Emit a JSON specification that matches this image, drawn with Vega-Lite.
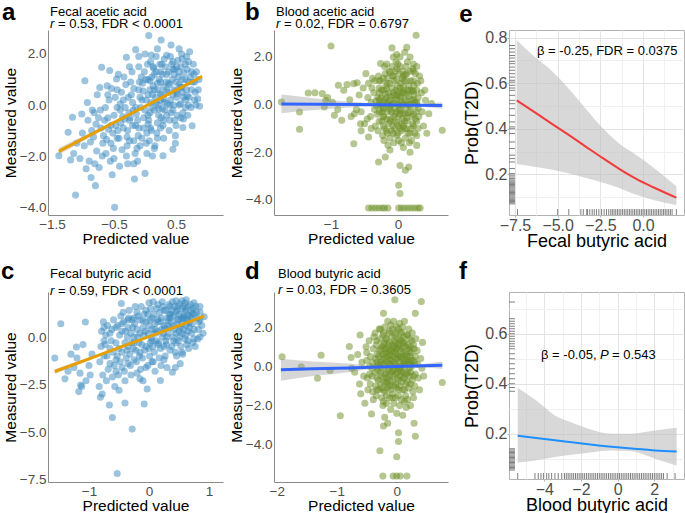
{
"$schema":"https://vega.github.io/schema/vega-lite/v6.json",
"background":"white",
"padding":{"left":1,"top":0,"right":0,"bottom":0},
"autosize":{"type":"pad"},
"config":{
 "font":"Liberation Sans",
 "view":{"stroke":null},
 "axis":{"labelFont":"Liberation Sans","titleFont":"Liberation Sans","labelFontSize":13.5,"titleFontSize":15.5,"labelColor":"#4D4D4D","titleColor":"#000000","titleFontWeight":"normal","domainColor":"#8A8A8A","domainWidth":1,"ticks":false,"grid":false,"labelPadding":2,"titlePadding":1,"labelOverlap":false,"labelFlush":false},
 "text":{"font":"Liberation Sans","color":"#000000","baseline":"alphabetic","align":"left","fontSize":13}
},
"datasets":{
"pa":[{"x":-1.39,"y":-1.99},{"x":-1.24,"y":-1.07},{"x":-1.17,"y":-0.48},{"x":-1.12,"y":-3.53},{"x":-1.2,"y":-2.15},{"x":-1.1,"y":-1.5},{"x":-1.15,"y":-1.9},{"x":-0.95,"y":-2.5},
{"x":-1.02,"y":-0.35},{"x":-0.98,"y":-1.6},{"x":-1.05,"y":-2.1},{"x":-0.97,"y":0.95},{"x":-1.01,"y":-1.1},
{"x":-0.92,"y":-0.6},{"x":-0.88,"y":-1.45},{"x":-0.9,"y":-2.2},{"x":-0.87,"y":-2.84},{"x":-0.93,"y":0.1},{"x":-0.86,"y":-1.0},
{"x":-0.8,"y":-3.16},{"x":-0.82,"y":-0.3},{"x":-0.78,"y":-1.8},{"x":-0.83,"y":-1.25},{"x":-0.77,"y":0.4},{"x":-0.81,"y":-2.3},{"x":-0.79,"y":-0.75},
{"x":-0.7,"y":1.48},{"x":-0.72,"y":-0.2},{"x":-0.68,"y":-1.5},{"x":-0.73,"y":0.69},{"x":-0.69,"y":-2.0},{"x":-0.71,"y":-0.9},{"x":-0.67,"y":-1.2},{"x":-0.74,"y":-2.45},
{"x":-0.57,"y":1.35},{"x":-0.6,"y":-0.5},{"x":-0.62,"y":-1.35},{"x":-0.58,"y":0.2},{"x":-0.63,"y":-1.9},{"x":-0.59,"y":-0.95},{"x":-0.61,"y":0.75},{"x":-0.56,"y":-2.2},{"x":-0.64,"y":-0.1},
{"x":-0.46,"y":1.02},{"x":-0.49,"y":-4.01},{"x":-0.53,"y":-2.73},{"x":-0.5,"y":-0.4},{"x":-0.52,"y":-1.1},{"x":-0.48,"y":0.3},{"x":-0.51,"y":-1.7},{"x":-0.47,"y":-0.8},{"x":-0.54,"y":0.65},{"x":-0.5,"y":-2.1},
{"x":-0.4,"y":-0.2},{"x":-0.42,"y":-1.3},{"x":-0.38,"y":0.5},{"x":-0.41,"y":-2.4},{"x":-0.39,"y":-0.7},{"x":-0.43,"y":1.2},{"x":-0.37,"y":-1.75},{"x":-0.4,"y":0.05},{"x":-0.44,"y":-1.0},{"x":-0.36,"y":-0.45},
{"x":-0.3,"y":1.87},{"x":-0.32,"y":-0.1},{"x":-0.28,"y":-1.0},{"x":-0.31,"y":0.8},{"x":-0.29,"y":-1.6},{"x":-0.33,"y":-0.55},{"x":-0.27,"y":0.3},{"x":-0.3,"y":-2.0},{"x":-0.26,"y":-0.3},{"x":-0.34,"y":1.1},{"x":-0.29,"y":-1.25},
{"x":-0.17,"y":-2.9},{"x":-0.15,"y":2.17},{"x":-0.2,"y":-0.8},{"x":-0.22,"y":0.4},{"x":-0.18,"y":-1.4},{"x":-0.21,"y":1.3},{"x":-0.19,"y":-0.2},{"x":-0.23,"y":0.9},{"x":-0.16,"y":-1.9},{"x":-0.2,"y":0.1},{"x":-0.24,"y":-0.5},{"x":-0.18,"y":0.65},
{"x":-0.1,"y":1.5},{"x":-0.12,"y":-0.6},{"x":-0.08,"y":0.3},{"x":-0.11,"y":-1.2},{"x":-0.09,"y":0.9},{"x":-0.13,"y":-1.7},{"x":-0.07,"y":-0.1},{"x":-0.1,"y":0.6},{"x":-0.14,"y":-0.35},{"x":-0.06,"y":1.1},{"x":-0.1,"y":-0.9},{"x":-0.12,"y":-2.2},
{"x":0.0,"y":-2.68},{"x":0.06,"y":2.72},{"x":0.02,"y":0.2},{"x":-0.02,"y":-0.5},{"x":0.01,"y":1.0},{"x":0.03,"y":-1.1},{"x":-0.03,"y":0.55},{"x":0.04,"y":1.6},{"x":0.0,"y":-0.2},{"x":0.02,"y":-1.5},{"x":-0.04,"y":0.85},{"x":0.05,"y":-0.75},{"x":-0.01,"y":1.3},
{"x":0.1,"y":1.96},{"x":0.12,"y":0.4},{"x":0.08,"y":-0.3},{"x":0.11,"y":1.1},{"x":0.09,"y":-0.9},{"x":0.13,"y":0.75},{"x":0.07,"y":-1.4},{"x":0.1,"y":0.1},{"x":0.14,"y":1.45},{"x":0.06,"y":-0.6},{"x":0.12,"y":-2.0},{"x":0.08,"y":0.95},{"x":0.11,"y":-0.1},{"x":0.09,"y":1.7},
{"x":0.2,"y":0.6},{"x":0.22,"y":-0.4},{"x":0.18,"y":1.3},{"x":0.21,"y":0.0},{"x":0.19,"y":-1.1},{"x":0.23,"y":1.0},{"x":0.17,"y":0.3},{"x":0.2,"y":-0.7},{"x":0.24,"y":1.6},{"x":0.16,"y":-1.6},{"x":0.2,"y":0.85},{"x":0.22,"y":-0.15},{"x":0.18,"y":1.9},{"x":0.25,"y":0.45},
{"x":0.26,"y":2.55},{"x":0.29,"y":-1.99},{"x":0.3,"y":0.7},{"x":0.32,"y":-0.2},{"x":0.28,"y":1.2},{"x":0.31,"y":0.1},{"x":0.29,"y":-0.8},{"x":0.33,"y":1.5},{"x":0.27,"y":0.4},{"x":0.3,"y":-1.3},{"x":0.34,"y":0.9},{"x":0.26,"y":-0.5},{"x":0.31,"y":1.8},{"x":0.3,"y":0.25},
{"x":0.42,"y":2.35},{"x":0.45,"y":-1.73},{"x":0.4,"y":0.8},{"x":0.42,"y":-0.3},{"x":0.38,"y":1.3},{"x":0.41,"y":0.2},{"x":0.39,"y":-1.0},{"x":0.43,"y":1.6},{"x":0.37,"y":0.5},{"x":0.4,"y":-0.6},{"x":0.44,"y":1.0},{"x":0.36,"y":0.05},{"x":0.41,"y":1.9},
{"x":0.5,"y":0.9},{"x":0.52,"y":-0.4},{"x":0.48,"y":1.4},{"x":0.51,"y":0.3},{"x":0.49,"y":-1.2},{"x":0.53,"y":1.75},{"x":0.47,"y":0.6},{"x":0.5,"y":-0.8},{"x":0.54,"y":1.1},{"x":0.46,"y":0.0},{"x":0.51,"y":1.5},{"x":0.49,"y":-1.5},{"x":0.52,"y":0.45},
{"x":0.59,"y":2.0},{"x":0.61,"y":-0.88},{"x":0.6,"y":1.0},{"x":0.62,"y":0.3},{"x":0.58,"y":1.5},{"x":0.61,"y":-0.3},{"x":0.59,"y":0.7},{"x":0.63,"y":1.25},{"x":0.57,"y":0.05},{"x":0.6,"y":1.8},{"x":0.62,"y":-0.55},
{"x":0.72,"y":2.09},{"x":0.7,"y":0.9},{"x":0.68,"y":1.4},{"x":0.71,"y":0.3},{"x":0.69,"y":-0.4},{"x":0.73,"y":1.1},{"x":0.67,"y":0.6},{"x":0.7,"y":1.7},{"x":0.74,"y":-0.1},
{"x":0.76,"y":-0.81},{"x":0.79,"y":1.2},{"x":0.81,"y":0.5},{"x":0.78,"y":1.6},{"x":0.82,"y":0.0},{"x":0.8,"y":0.9},
{"x":0.88,"y":-0.05},{"x":0.85,"y":0.24},{"x":0.87,"y":1.0},{"x":0.86,"y":0.6},
{"x":0.05,"y":0.4},{"x":0.15,"y":0.6},{"x":0.25,"y":0.9},{"x":0.35,"y":1.2},{"x":0.45,"y":1.4},{"x":0.55,"y":1.3},{"x":0.65,"y":1.0},{"x":0.75,"y":1.3},{"x":0.15,"y":-0.2},{"x":0.25,"y":0.2},{"x":0.35,"y":0.6},{"x":0.45,"y":0.4},{"x":0.55,"y":0.8},{"x":0.65,"y":0.2},{"x":0.75,"y":0.6},{"x":0.05,"y":-0.4},{"x":0.15,"y":1.2},{"x":0.25,"y":1.3},{"x":0.35,"y":-0.4},{"x":0.45,"y":-0.2},{"x":0.55,"y":0.0},{"x":0.65,"y":-0.1},{"x":0.35,"y":1.95},{"x":0.45,"y":1.7},{"x":0.55,"y":2.2},{"x":0.65,"y":1.6},{"x":0.25,"y":-0.9},{"x":0.05,"y":1.0},{"x":-0.05,"y":0.2},{"x":-0.15,"y":-0.1},{"x":-0.25,"y":-0.6},{"x":-0.35,"y":-0.9},{"x":-0.45,"y":-1.3},{"x":-0.55,"y":-0.8},{"x":-0.05,"y":-1.3},{"x":-0.15,"y":-0.8},{"x":-0.25,"y":-1.4},{"x":-0.35,"y":0.2},{"x":-0.45,"y":-0.1},{"x":-0.55,"y":-1.5},{"x":-0.65,"y":-0.6},{"x":0.1,"y":-1.0},{"x":0.2,"y":-1.3},{"x":0.3,"y":-0.6},{"x":0.4,"y":0.0},{"x":0.5,"y":0.55},{"x":0.6,"y":0.5},{"x":0.7,"y":0.0},{"x":0.8,"y":0.2},{"x":0.2,"y":2.2},{"x":0.0,"y":2.0},{"x":-0.1,"y":1.9},{"x":-0.25,"y":1.5},{"x":0.13,"y":1.5},{"x":0.27,"y":1.6},{"x":0.47,"y":1.2},{"x":0.57,"y":0.7},{"x":0.67,"y":1.9},{"x":0.77,"y":0.9},{"x":0.83,"y":1.3},{"x":-0.02,"y":-0.9},{"x":0.08,"y":0.6},{"x":0.18,"y":0.1},{"x":0.28,"y":-0.15},{"x":0.38,"y":0.85},{"x":0.48,"y":-0.6},{"x":0.58,"y":-0.5},{"x":0.68,"y":0.35},{"x":-0.08,"y":-1.6},{"x":-0.18,"y":-2.3},{"x":-0.28,"y":-2.3},{"x":0.03,"y":-1.9},{"x":0.15,"y":-1.7},{"x":-0.6,"y":0.4},{"x":-0.45,"y":0.6},{"x":-0.75,"y":-0.5},{"x":-0.85,"y":-0.2}],
"pb":[{"x":-1.74,"y":0.11},{"x":-1.47,"y":-0.31},{"x":-1.47,"y":-1.03},{"x":-1.0,"y":2.46},{"x":-1.34,"y":0.49},{"x":-1.24,"y":0.5},{"x":-1.13,"y":0.46},{"x":-1.08,"y":0.18},{"x":-1.05,"y":0.3},{"x":-0.98,"y":0.1},{"x":-0.89,"y":0.81},{"x":-0.81,"y":0.6},{"x":-0.76,"y":0.84},{"x":-0.66,"y":0.88},{"x":-0.61,"y":0.92},{"x":-0.84,"y":-0.66},{"x":-0.66,"y":-1.64},{"x":-0.7,"y":-0.5},{"x":-0.65,"y":-0.38},{"x":-0.56,"y":-0.8},{"x":-0.55,"y":-0.3},{"x":-0.58,"y":0.4},{"x":-0.9,"y":-0.2},{"x":-0.72,"y":0.2},{"x":-0.5,"y":-0.8},{"x":-0.52,"y":0.7},{"x":-0.62,"y":-0.2},{"x":-1.1,"y":-0.1},{"x":-0.95,"y":-0.45},{"x":-0.48,"y":1.3},{"x":-0.55,"y":-1.1},
{"x":-0.45,"y":0.3},{"x":-0.46,"y":-0.6},{"x":-0.44,"y":0.9},{"x":-0.44,"y":-1.36},
{"x":-0.4,"y":0.1},{"x":-0.41,"y":-0.5},{"x":-0.39,"y":0.7},{"x":-0.4,"y":-1.0},{"x":-0.38,"y":1.1},
{"x":-0.35,"y":-0.2},{"x":-0.36,"y":0.5},{"x":-0.34,"y":-0.9},{"x":-0.35,"y":1.0},{"x":-0.33,"y":0.15},
{"x":-0.3,"y":0.3},{"x":-0.31,"y":-0.4},{"x":-0.29,"y":1.2},{"x":-0.3,"y":-1.1},{"x":-0.28,"y":0.7},{"x":-0.29,"y":-2.41},{"x":-0.32,"y":-0.05},
{"x":-0.26,"y":1.72},{"x":-0.25,"y":0.0},{"x":-0.24,"y":-0.7},{"x":-0.25,"y":0.6},{"x":-0.23,"y":-1.3},{"x":-0.26,"y":1.0},{"x":-0.24,"y":-0.3},{"x":-0.25,"y":0.3},
{"x":-0.19,"y":-2.2},{"x":-0.2,"y":0.2},{"x":-0.21,"y":-0.5},{"x":-0.19,"y":1.3},{"x":-0.2,"y":-1.0},{"x":-0.18,"y":0.8},{"x":-0.22,"y":-0.15},{"x":-0.2,"y":1.6},{"x":-0.21,"y":-1.5},{"x":-0.19,"y":0.45},
{"x":-0.15,"y":0.1},{"x":-0.14,"y":-0.8},{"x":-0.16,"y":0.9},{"x":-0.15,"y":-0.3},{"x":-0.13,"y":1.4},{"x":-0.16,"y":-1.2},{"x":-0.14,"y":0.5},{"x":-0.15,"y":-1.7},{"x":-0.13,"y":-0.05},{"x":-0.16,"y":1.1},
{"x":-0.09,"y":2.38},{"x":-0.1,"y":0.0},{"x":-0.11,"y":-0.6},{"x":-0.09,"y":0.7},{"x":-0.1,"y":-1.1},{"x":-0.08,"y":1.2},{"x":-0.11,"y":0.35},{"x":-0.1,"y":-0.3},{"x":-0.09,"y":1.6},{"x":-0.12,"y":-1.4},{"x":-0.08,"y":-0.9},
{"x":-0.05,"y":0.2},{"x":-0.04,"y":-0.4},{"x":-0.06,"y":1.0},{"x":-0.05,"y":-1.0},{"x":-0.03,"y":0.6},{"x":-0.06,"y":-1.6},{"x":-0.04,"y":1.4},{"x":-0.05,"y":-0.15},{"x":-0.03,"y":1.8},{"x":-0.06,"y":0.4},{"x":-0.05,"y":-0.7},
{"x":0.01,"y":-3.38},{"x":0.03,"y":-3.73},{"x":0.0,"y":0.0},{"x":0.01,"y":-0.5},{"x":-0.01,"y":0.8},{"x":0.0,"y":-1.2},{"x":0.02,"y":1.3},{"x":-0.01,"y":0.4},{"x":0.01,"y":-0.9},{"x":0.0,"y":1.7},{"x":0.02,"y":-0.2},{"x":-0.02,"y":2.1},{"x":0.01,"y":-1.5},{"x":0.0,"y":0.55},
{"x":0.03,"y":-2.55},{"x":0.05,"y":0.1},{"x":0.06,"y":-0.6},{"x":0.04,"y":0.9},{"x":0.05,"y":-1.1},{"x":0.07,"y":1.4},{"x":0.04,"y":-0.25},{"x":0.06,"y":0.5},{"x":0.05,"y":-1.6},{"x":0.03,"y":2.0},{"x":0.06,"y":1.1},{"x":0.05,"y":-0.8},{"x":0.04,"y":0.3},
{"x":0.11,"y":-2.75},{"x":0.1,"y":0.2},{"x":0.11,"y":-0.4},{"x":0.09,"y":1.0},{"x":0.1,"y":-1.0},{"x":0.12,"y":1.6},{"x":0.09,"y":0.5},{"x":0.11,"y":-1.4},{"x":0.1,"y":2.2},{"x":0.12,"y":-0.1},{"x":0.08,"y":0.75},{"x":0.1,"y":-0.7},{"x":0.11,"y":1.25},
{"x":0.16,"y":-2.62},{"x":0.15,"y":0.0},{"x":0.14,"y":-0.7},{"x":0.16,"y":0.8},{"x":0.15,"y":-1.2},{"x":0.13,"y":1.3},{"x":0.16,"y":0.35},{"x":0.15,"y":-0.35},{"x":0.14,"y":1.8},{"x":0.17,"y":-1.6},{"x":0.15,"y":0.6},
{"x":0.2,"y":0.2},{"x":0.21,"y":-0.5},{"x":0.19,"y":1.0},{"x":0.2,"y":-1.0},{"x":0.22,"y":1.5},{"x":0.19,"y":-0.1},{"x":0.21,"y":0.6},{"x":0.2,"y":-1.5},{"x":0.18,"y":2.0},{"x":0.22,"y":-0.8},
{"x":0.27,"y":2.91},{"x":0.25,"y":0.1},{"x":0.26,"y":-0.6},{"x":0.24,"y":0.8},{"x":0.25,"y":-1.2},{"x":0.26,"y":1.3},{"x":0.24,"y":0.4},{"x":0.27,"y":-0.3},{"x":0.23,"y":1.7},
{"x":0.28,"y":-1.71},{"x":0.3,"y":0.3},{"x":0.31,"y":-0.5},{"x":0.29,"y":0.9},{"x":0.3,"y":-1.0},{"x":0.32,"y":1.2},{"x":0.3,"y":-0.15},
{"x":0.35,"y":0.5},{"x":0.36,"y":-0.3},{"x":0.34,"y":1.0},{"x":0.41,"y":0.18},{"x":0.46,"y":-0.38},{"x":0.4,"y":0.6},{"x":0.38,"y":-0.9},{"x":0.66,"y":-1.08},{"x":0.5,"y":0.05},{"x":0.43,"y":-1.2},
{"x":-0.44,"y":-4.34},{"x":-0.39,"y":-4.34},{"x":-0.34,"y":-4.34},{"x":-0.29,"y":-4.34},{"x":-0.24,"y":-4.34},{"x":-0.2,"y":-4.34},{"x":-0.15,"y":-4.34},{"x":0.01,"y":-4.34},{"x":0.05,"y":-4.34},{"x":0.1,"y":-4.34},{"x":0.15,"y":-4.34},{"x":0.2,"y":-4.34},{"x":0.25,"y":-4.34},{"x":0.3,"y":-4.34},{"x":0.33,"y":-4.34},
{"x":-0.28,"y":0.0},{"x":-0.28,"y":0.5},{"x":-0.28,"y":-0.7},{"x":-0.28,"y":1.0},{"x":-0.28,"y":-0.3},{"x":-0.28,"y":0.2},
{"x":-0.22,"y":0.6},{"x":-0.22,"y":-0.2},{"x":-0.22,"y":1.1},{"x":-0.22,"y":-0.9},{"x":-0.22,"y":0.1},{"x":-0.22,"y":-0.5},
{"x":-0.17,"y":0.3},{"x":-0.17,"y":-0.6},{"x":-0.17,"y":1.7},{"x":-0.17,"y":-1.1},{"x":-0.17,"y":0.0},{"x":-0.17,"y":0.65},
{"x":-0.12,"y":0.9},{"x":-0.12,"y":-0.2},{"x":-0.12,"y":0.2},{"x":-0.12,"y":-0.7},{"x":-0.12,"y":1.35},{"x":-0.12,"y":-1.9},
{"x":-0.07,"y":0.5},{"x":-0.07,"y":-0.5},{"x":-0.07,"y":1.2},{"x":-0.07,"y":-1.2},{"x":-0.07,"y":0.05},{"x":-0.07,"y":2.0},
{"x":-0.02,"y":0.25},{"x":-0.02,"y":-0.3},{"x":-0.02,"y":1.05},{"x":-0.02,"y":-0.75},{"x":-0.02,"y":1.5},{"x":-0.02,"y":-1.3},
{"x":0.03,"y":0.7},{"x":0.03,"y":-0.4},{"x":0.03,"y":1.6},{"x":0.03,"y":-1.0},{"x":0.03,"y":0.0},{"x":0.03,"y":0.35},
{"x":0.08,"y":0.0},{"x":0.08,"y":-0.9},{"x":0.08,"y":1.2},{"x":0.08,"y":-0.35},{"x":0.08,"y":0.6},{"x":0.08,"y":-1.8},
{"x":0.13,"y":0.45},{"x":0.13,"y":-0.55},{"x":0.13,"y":1.0},{"x":0.13,"y":-1.0},{"x":0.13,"y":0.15},{"x":0.13,"y":2.4},
{"x":0.18,"y":0.6},{"x":0.18,"y":-0.3},{"x":0.18,"y":1.4},{"x":0.18,"y":-1.2},{"x":0.18,"y":0.0},{"x":0.18,"y":-2.0},
{"x":0.23,"y":0.2},{"x":0.23,"y":-0.4},{"x":0.23,"y":1.0},{"x":0.23,"y":-0.9},{"x":0.23,"y":0.55},{"x":0.23,"y":1.4},
{"x":0.28,"y":0.6},{"x":0.28,"y":-0.7},{"x":0.28,"y":0.1},{"x":0.28,"y":1.6},{"x":0.28,"y":-1.3},{"x":0.28,"y":0.0}],
"pc":[{"x":-1.57,"y":-1.11},{"x":-1.47,"y":0.7},{"x":-1.3,"y":-0.9},{"x":-1.35,"y":-1.8},{"x":-1.4,"y":-2.2},{"x":-1.21,"y":-0.53},{"x":-1.14,"y":-2.52},
{"x":-1.17,"y":-2.87},{"x":-1.2,"y":-1.1},{"x":-1.15,"y":-1.9},{"x":-1.1,"y":-0.4},{"x":-1.06,"y":0.79},{"x":-1.0,"y":-1.5},{"x":-1.05,"y":-2.3},{"x":-0.95,"y":-0.9},{"x":-1.12,"y":-2.6},{"x":-0.98,"y":-2.0},{"x":-1.25,"y":-1.6},
{"x":-0.81,"y":-3.17},{"x":-0.78,"y":-3.0},{"x":-0.8,"y":-0.5},{"x":-0.82,"y":-1.3},{"x":-0.79,"y":0.3},{"x":-0.77,"y":-2.0},{"x":-0.83,"y":-2.6},{"x":-0.76,"y":0.8},
{"x":-0.7,"y":-1.0},{"x":-0.72,"y":0.1},{"x":-0.68,"y":-1.7},{"x":-0.71,"y":-2.3},{"x":-0.69,"y":0.6},{"x":-0.66,"y":-3.57},{"x":-0.73,"y":-0.4},
{"x":-0.61,"y":-4.23},{"x":-0.6,"y":-0.8},{"x":-0.62,"y":0.4},{"x":-0.58,"y":-1.5},{"x":-0.61,"y":-2.1},{"x":-0.59,"y":0.9},{"x":-0.63,"y":-0.2},{"x":-0.57,"y":-2.6},{"x":-0.53,"y":-7.17},
{"x":-0.5,"y":-0.6},{"x":-0.52,"y":0.6},{"x":-0.48,"y":-1.3},{"x":-0.51,"y":-2.0},{"x":-0.46,"y":1.76},{"x":-0.49,"y":0.1},{"x":-0.53,"y":-1.0},{"x":-0.47,"y":1.1},{"x":-0.5,"y":-2.8},
{"x":-0.4,"y":-3.47},{"x":-0.4,"y":-0.3},{"x":-0.42,"y":0.8},{"x":-0.38,"y":-1.1},{"x":-0.41,"y":-1.8},{"x":-0.39,"y":0.3},{"x":-0.43,"y":1.3},{"x":-0.37,"y":-0.7},{"x":-0.4,"y":-2.3},{"x":-0.36,"y":0.0},
{"x":-0.28,"y":-4.84},{"x":-0.3,"y":0.2},{"x":-0.32,"y":-0.9},{"x":-0.28,"y":0.9},{"x":-0.31,"y":-1.5},{"x":-0.29,"y":-0.3},{"x":-0.33,"y":1.4},{"x":-0.27,"y":0.5},{"x":-0.3,"y":-2.0},{"x":-0.26,"y":-0.6},{"x":-0.34,"y":1.0},
{"x":-0.2,"y":0.4},{"x":-0.22,"y":-0.7},{"x":-0.18,"y":1.1},{"x":-0.21,"y":-1.3},{"x":-0.19,"y":0.0},{"x":-0.23,"y":1.6},{"x":-0.17,"y":-0.3},{"x":-0.2,"y":-1.9},{"x":-0.24,"y":0.7},{"x":-0.16,"y":-1.0},{"x":-0.2,"y":1.3},
{"x":-0.1,"y":0.5},{"x":-0.12,"y":-0.4},{"x":-0.08,"y":1.2},{"x":-0.11,"y":-1.1},{"x":-0.09,"y":0.1},{"x":-0.13,"y":1.6},{"x":-0.07,"y":-0.7},{"x":-0.1,"y":0.85},{"x":-0.14,"y":-1.7},{"x":-0.06,"y":0.3},{"x":-0.1,"y":-2.3},{"x":-0.08,"y":-3.52},
{"x":0.0,"y":0.6},{"x":0.02,"y":-0.3},{"x":-0.02,"y":1.2},{"x":0.01,"y":-1.0},{"x":-0.01,"y":0.2},{"x":0.03,"y":1.5},{"x":0.0,"y":-0.6},{"x":-0.03,"y":-2.73},{"x":0.02,"y":0.9},{"x":-0.02,"y":-1.5},{"x":0.04,"y":-0.05},{"x":0.0,"y":1.8},
{"x":0.07,"y":1.85},{"x":0.1,"y":0.7},{"x":0.12,"y":-0.2},{"x":0.08,"y":1.2},{"x":0.11,"y":0.2},{"x":0.09,"y":-0.8},{"x":0.13,"y":1.5},{"x":0.07,"y":-1.3},{"x":0.1,"y":0.4},{"x":0.14,"y":0.95},{"x":0.06,"y":-0.5},{"x":0.1,"y":-1.8},
{"x":0.19,"y":-2.29},{"x":0.2,"y":0.8},{"x":0.22,"y":0.0},{"x":0.18,"y":1.3},{"x":0.21,"y":0.4},{"x":0.19,"y":-0.6},{"x":0.23,"y":1.6},{"x":0.17,"y":-1.1},{"x":0.2,"y":1.0},{"x":0.24,"y":0.2},{"x":0.16,"y":-0.3},{"x":0.2,"y":-1.5},{"x":0.22,"y":1.85},
{"x":0.3,"y":1.0},{"x":0.32,"y":0.2},{"x":0.28,"y":1.4},{"x":0.31,"y":0.6},{"x":0.29,"y":-0.4},{"x":0.33,"y":1.7},{"x":0.27,"y":-1.0},{"x":0.3,"y":0.0},{"x":0.34,"y":1.2},{"x":0.26,"y":0.45},{"x":0.3,"y":-1.6},{"x":0.32,"y":0.85},{"x":0.28,"y":-0.2},
{"x":0.39,"y":1.85},{"x":0.39,"y":-1.85},{"x":0.4,"y":1.1},{"x":0.42,"y":0.4},{"x":0.38,"y":1.4},{"x":0.41,"y":-0.2},{"x":0.37,"y":0.8},{"x":0.43,"y":1.6},{"x":0.4,"y":0.0},{"x":0.44,"y":-0.8},{"x":0.36,"y":1.2},{"x":0.41,"y":0.6},{"x":0.44,"y":-1.6},{"x":0.38,"y":-0.5},
{"x":0.5,"y":1.2},{"x":0.52,"y":0.5},{"x":0.48,"y":1.6},{"x":0.51,"y":0.0},{"x":0.49,"y":0.9},{"x":0.53,"y":-0.5},{"x":0.47,"y":1.4},{"x":0.5,"y":0.3},{"x":0.54,"y":1.0},{"x":0.46,"y":-1.0},{"x":0.51,"y":1.75},{"x":0.49,"y":-0.2},{"x":0.55,"y":0.7},{"x":0.52,"y":-1.4},
{"x":0.6,"y":1.3},{"x":0.62,"y":0.6},{"x":0.58,"y":1.6},{"x":0.61,"y":0.1},{"x":0.59,"y":1.0},{"x":0.63,"y":-0.4},{"x":0.57,"y":0.4},{"x":0.6,"y":1.8},{"x":0.64,"y":0.9},{"x":0.56,"y":-0.9},{"x":0.61,"y":1.45},{"x":0.6,"y":-0.1},
{"x":0.7,"y":1.4},{"x":0.72,"y":0.7},{"x":0.68,"y":1.1},{"x":0.71,"y":0.2},{"x":0.69,"y":1.7},{"x":0.73,"y":-0.3},{"x":0.67,"y":0.5},{"x":0.7,"y":1.0},{"x":0.74,"y":1.5},{"x":0.66,"y":-0.6},
{"x":0.78,"y":1.62},{"x":0.8,"y":1.0},{"x":0.82,"y":0.4},{"x":0.79,"y":1.3},{"x":0.81,"y":-0.1},{"x":0.83,"y":0.8},{"x":0.77,"y":-0.5},
{"x":0.92,"y":1.06},{"x":0.88,"y":0.6},{"x":0.85,"y":1.3},{"x":0.9,"y":0.2},
{"x":0.45,"y":1.9},{"x":0.45,"y":0.2},{"x":0.45,"y":-0.3},{"x":0.45,"y":1.3},{"x":0.55,"y":1.5},{"x":0.55,"y":0.2},{"x":0.55,"y":-0.8},{"x":0.55,"y":1.9},{"x":0.65,"y":1.6},{"x":0.65,"y":0.3},{"x":0.65,"y":-0.2},{"x":0.65,"y":1.15},{"x":0.75,"y":1.8},{"x":0.75,"y":0.4},{"x":0.75,"y":1.2},{"x":0.75,"y":-0.1},{"x":0.35,"y":1.6},{"x":0.35,"y":0.5},{"x":0.35,"y":-0.7},{"x":0.35,"y":1.0},{"x":0.25,"y":1.4},{"x":0.25,"y":0.6},{"x":0.25,"y":-0.5},{"x":0.25,"y":-1.2},{"x":0.15,"y":1.7},{"x":0.15,"y":0.3},{"x":0.15,"y":-0.4},{"x":0.15,"y":0.8},{"x":0.05,"y":1.0},{"x":0.05,"y":-0.2},{"x":0.05,"y":-1.3},{"x":0.05,"y":0.4},{"x":-0.05,"y":0.8},{"x":-0.05,"y":-0.5},{"x":-0.05,"y":-1.6},{"x":-0.05,"y":1.4},{"x":-0.15,"y":0.2},{"x":-0.15,"y":-0.8},{"x":-0.15,"y":0.9},{"x":-0.15,"y":-2.2},{"x":-0.25,"y":0.0},{"x":-0.25,"y":1.0},{"x":-0.25,"y":-1.2},{"x":-0.25,"y":-0.3},{"x":-0.35,"y":0.5},{"x":-0.35,"y":-0.5},{"x":-0.35,"y":-1.4},{"x":-0.35,"y":0.9},{"x":-0.45,"y":0.3},{"x":-0.45,"y":-0.8},{"x":-0.45,"y":-1.6},{"x":-0.45,"y":0.7},{"x":-0.55,"y":-0.3},{"x":-0.55,"y":0.5},{"x":-0.55,"y":-1.2},{"x":-0.55,"y":-1.8},{"x":-0.65,"y":0.2},{"x":-0.65,"y":-0.6},{"x":-0.65,"y":-1.4},{"x":-0.75,"y":-0.2},{"x":-0.75,"y":-1.0},{"x":-0.75,"y":0.5},{"x":0.85,"y":0.9},{"x":0.85,"y":1.6},{"x":0.85,"y":0.0},{"x":0.57,"y":0.95},{"x":0.57,"y":1.1},{"x":0.47,"y":0.65},{"x":0.47,"y":0.93},{"x":0.67,"y":0.75},{"x":0.72,"y":1.25},{"x":0.62,"y":1.95}],
"pd":[{"x":-1.91,"y":0.49},{"x":-1.59,"y":-0.03},{"x":-1.26,"y":0.56},{"x":-1.32,"y":-0.61},{"x":-1.11,"y":-0.21},{"x":-0.94,"y":-2.52},{"x":-0.79,"y":1.01},{"x":-0.76,"y":0.45},{"x":-0.61,"y":1.6},{"x":-0.7,"y":-0.3},{"x":-0.62,"y":-0.9},{"x":-0.58,"y":0.2},{"x":-0.65,"y":0.6},{"x":-0.55,"y":-0.5},{"x":-0.75,"y":-0.1},{"x":-0.6,"y":-1.4},
{"x":-0.53,"y":-1.88},{"x":-0.5,"y":0.3},{"x":-0.49,"y":-0.6},{"x":-0.51,"y":1.0},{"x":-0.48,"y":-1.2},{"x":-0.5,"y":0.7},
{"x":-0.45,"y":0.0},{"x":-0.44,"y":-0.9},{"x":-0.46,"y":1.3},{"x":-0.42,"y":-2.43},{"x":-0.44,"y":0.5},{"x":-0.45,"y":-0.4},
{"x":-0.4,"y":0.2},{"x":-0.41,"y":-0.5},{"x":-0.39,"y":0.9},{"x":-0.4,"y":-1.3},{"x":-0.38,"y":1.5},{"x":-0.41,"y":-0.1},{"x":-0.39,"y":-1.7},
{"x":-0.35,"y":0.4},{"x":-0.36,"y":-0.3},{"x":-0.34,"y":1.1},{"x":-0.35,"y":-1.0},{"x":-0.33,"y":0.0},{"x":-0.36,"y":1.7},{"x":-0.34,"y":-1.5},
{"x":-0.3,"y":0.1},{"x":-0.31,"y":-0.7},{"x":-0.29,"y":0.8},{"x":-0.3,"y":-1.2},{"x":-0.28,"y":1.4},{"x":-0.28,"y":-4.31},{"x":-0.31,"y":-0.2},{"x":-0.29,"y":1.9},{"x":-0.3,"y":0.5},
{"x":-0.22,"y":2.7},{"x":-0.22,"y":-3.04},{"x":-0.25,"y":0.3},{"x":-0.26,"y":-0.5},{"x":-0.24,"y":1.0},{"x":-0.25,"y":-1.1},{"x":-0.23,"y":1.6},{"x":-0.26,"y":-0.1},{"x":-0.24,"y":0.6},{"x":-0.25,"y":-1.6},{"x":-0.23,"y":-2.0},
{"x":-0.2,"y":0.0},{"x":-0.21,"y":-0.8},{"x":-0.19,"y":0.9},{"x":-0.2,"y":-1.3},{"x":-0.18,"y":1.4},{"x":-0.21,"y":0.4},{"x":-0.19,"y":-0.4},{"x":-0.2,"y":2.0},{"x":-0.22,"y":-1.8},{"x":-0.18,"y":0.7},{"x":-0.2,"y":-2.6},{"x":-0.21,"y":1.2},
{"x":-0.15,"y":0.2},{"x":-0.16,"y":-0.6},{"x":-0.14,"y":1.1},{"x":-0.15,"y":-1.1},{"x":-0.13,"y":1.7},{"x":-0.16,"y":0.5},{"x":-0.14,"y":-0.2},{"x":-0.15,"y":2.3},{"x":-0.17,"y":-1.5},{"x":-0.13,"y":0.8},{"x":-0.15,"y":-2.9},{"x":-0.16,"y":-0.9},
{"x":-0.1,"y":0.0},{"x":-0.11,"y":-0.7},{"x":-0.09,"y":0.8},{"x":-0.1,"y":-1.2},{"x":-0.08,"y":1.5},{"x":-0.11,"y":0.35},{"x":-0.09,"y":-0.3},{"x":-0.1,"y":2.1},{"x":-0.12,"y":-1.6},{"x":-0.08,"y":1.1},{"x":-0.1,"y":-2.2},{"x":-0.11,"y":0.55},
{"x":-0.03,"y":3.39},{"x":-0.05,"y":0.2},{"x":-0.06,"y":-0.5},{"x":-0.04,"y":1.0},{"x":-0.05,"y":-1.0},{"x":-0.03,"y":1.6},{"x":-0.06,"y":0.5},{"x":-0.04,"y":-0.2},{"x":-0.05,"y":2.3},{"x":-0.07,"y":-1.4},{"x":-0.03,"y":0.75},{"x":-0.05,"y":-1.9},{"x":-0.04,"y":1.3},
{"x":0.0,"y":-4.61},{"x":0.03,"y":-3.39},{"x":0.03,"y":-3.83},{"x":0.0,"y":0.0},{"x":0.01,"y":-0.6},{"x":-0.01,"y":0.9},{"x":0.0,"y":-1.1},{"x":0.02,"y":1.4},{"x":-0.01,"y":0.4},{"x":0.01,"y":-0.3},{"x":0.0,"y":2.0},{"x":-0.02,"y":-1.6},{"x":0.02,"y":1.1},{"x":0.0,"y":-2.4},{"x":0.01,"y":0.6},
{"x":0.05,"y":0.2},{"x":0.06,"y":-0.5},{"x":0.04,"y":1.1},{"x":0.05,"y":-1.0},{"x":0.07,"y":1.7},{"x":0.04,"y":0.5},{"x":0.06,"y":-0.2},{"x":0.05,"y":2.2},{"x":0.03,"y":-1.5},{"x":0.07,"y":0.8},{"x":0.05,"y":-2.0},{"x":0.06,"y":1.4},
{"x":0.1,"y":0.1},{"x":0.11,"y":-0.6},{"x":0.09,"y":0.9},{"x":0.1,"y":-1.2},{"x":0.12,"y":1.5},{"x":0.09,"y":0.4},{"x":0.11,"y":-0.3},{"x":0.1,"y":2.0},{"x":0.08,"y":-1.7},{"x":0.12,"y":0.7},{"x":0.1,"y":-2.5},{"x":0.11,"y":1.2},
{"x":0.15,"y":0.3},{"x":0.16,"y":-0.4},{"x":0.14,"y":1.0},{"x":0.15,"y":-0.9},{"x":0.17,"y":1.6},{"x":0.14,"y":0.0},{"x":0.16,"y":0.6},{"x":0.15,"y":-1.5},{"x":0.13,"y":2.3},{"x":0.16,"y":-2.1},
{"x":0.2,"y":0.2},{"x":0.21,"y":-0.5},{"x":0.19,"y":0.9},{"x":0.2,"y":-1.1},{"x":0.22,"y":1.4},{"x":0.19,"y":0.5},{"x":0.21,"y":-0.1},{"x":0.2,"y":1.9},{"x":0.18,"y":-1.7},{"x":0.22,"y":0.8},
{"x":0.25,"y":0.0},{"x":0.26,"y":-0.7},{"x":0.24,"y":0.7},{"x":0.25,"y":1.3},{"x":0.27,"y":-1.3},{"x":0.24,"y":0.3},{"x":0.26,"y":1.7},{"x":0.23,"y":-2.0},
{"x":0.31,"y":2.7},{"x":0.31,"y":-3.57},{"x":0.3,"y":0.2},{"x":0.31,"y":-0.4},{"x":0.29,"y":0.9},{"x":0.3,"y":-1.0},{"x":0.32,"y":1.4},{"x":0.29,"y":-2.9},{"x":0.31,"y":0.5},
{"x":0.35,"y":0.1},{"x":0.36,"y":-0.6},{"x":0.34,"y":0.8},{"x":0.38,"y":-1.2},{"x":0.41,"y":3.3},{"x":0.43,"y":1.22},{"x":0.4,"y":0.4},{"x":0.45,"y":-0.5},{"x":0.76,"y":-0.83},{"x":0.42,"y":-0.1},
{"x":-0.23,"y":-5.6},{"x":-0.06,"y":-5.6},{"x":0.0,"y":-5.6},{"x":0.06,"y":-5.6},{"x":0.17,"y":-5.6},
{"x":-0.33,"y":0.6},{"x":-0.33,"y":-0.6},{"x":-0.33,"y":1.3},{"x":-0.33,"y":-1.2},{"x":-0.33,"y":0.2},
{"x":-0.27,"y":0.9},{"x":-0.27,"y":-0.3},{"x":-0.27,"y":0.2},{"x":-0.27,"y":-0.9},{"x":-0.27,"y":1.9},
{"x":-0.22,"y":0.1},{"x":-0.22,"y":-0.6},{"x":-0.22,"y":1.1},{"x":-0.22,"y":-1.2},{"x":-0.22,"y":0.6},{"x":-0.22,"y":1.7},
{"x":-0.17,"y":0.3},{"x":-0.17,"y":-0.3},{"x":-0.17,"y":1.4},{"x":-0.17,"y":-0.8},{"x":-0.17,"y":0.9},{"x":-0.17,"y":-1.9},
{"x":-0.12,"y":0.6},{"x":-0.12,"y":-0.5},{"x":-0.12,"y":1.2},{"x":-0.12,"y":-1.0},{"x":-0.12,"y":0.1},{"x":-0.12,"y":1.8},
{"x":-0.07,"y":0.3},{"x":-0.07,"y":-0.8},{"x":-0.07,"y":0.9},{"x":-0.07,"y":-0.2},{"x":-0.07,"y":1.9},{"x":-0.07,"y":-1.6},
{"x":-0.02,"y":0.65},{"x":-0.02,"y":-0.4},{"x":-0.02,"y":1.2},{"x":-0.02,"y":-0.9},{"x":-0.02,"y":0.1},{"x":-0.02,"y":1.7},
{"x":0.03,"y":0.4},{"x":0.03,"y":-0.7},{"x":0.03,"y":0.95},{"x":0.03,"y":-0.1},{"x":0.03,"y":1.9},{"x":0.03,"y":-1.2},
{"x":0.08,"y":0.5},{"x":0.08,"y":-0.3},{"x":0.08,"y":1.3},{"x":0.08,"y":-0.8},{"x":0.08,"y":0.0},{"x":0.08,"y":1.75},
{"x":0.13,"y":0.55},{"x":0.13,"y":-0.6},{"x":0.13,"y":1.2},{"x":0.13,"y":-1.2},{"x":0.13,"y":0.2},{"x":0.13,"y":-1.8},
{"x":0.18,"y":0.3},{"x":0.18,"y":-0.3},{"x":0.18,"y":1.1},{"x":0.18,"y":-0.8},{"x":0.18,"y":1.6},
{"x":0.23,"y":0.5},{"x":0.23,"y":-0.3},{"x":0.23,"y":1.0},{"x":0.23,"y":-0.9},{"x":0.23,"y":0.1},
{"x":0.28,"y":0.3},{"x":0.28,"y":-0.5},{"x":0.28,"y":1.1},{"x":0.28,"y":-1.6}],
"fa":[{"x":-1.39,"fit":-1.815,"lo":-1.95,"hi":-1.68},{"x":-1.0,"fit":-1.32,"lo":-1.42,"hi":-1.22},{"x":-0.5,"fit":-0.685,"lo":-0.75,"hi":-0.62},{"x":0,"fit":-0.05,"lo":-0.1,"hi":0.0},{"x":0.5,"fit":0.585,"lo":0.53,"hi":0.64},{"x":0.92,"fit":1.118,"lo":1.03,"hi":1.2}],
"fb":[{"x":-1.74,"fit":0.03,"lo":-0.36,"hi":0.42},{"x":-1.2,"fit":0.016,"lo":-0.22,"hi":0.25},{"x":-0.6,"fit":0.0,"lo":-0.1,"hi":0.1},{"x":0,"fit":-0.015,"lo":-0.05,"hi":0.02},{"x":0.3,"fit":-0.025,"lo":-0.08,"hi":0.03},{"x":0.66,"fit":-0.035,"lo":-0.17,"hi":0.1}],
"fc":[{"x":-1.57,"fit":-1.812,"lo":-1.94,"hi":-1.69},{"x":-1.0,"fit":-1.147,"lo":-1.23,"hi":-1.07},{"x":-0.5,"fit":-0.563,"lo":-0.61,"hi":-0.51},{"x":0,"fit":0.02,"lo":-0.02,"hi":0.06},{"x":0.5,"fit":0.6,"lo":0.56,"hi":0.64},{"x":0.92,"fit":1.094,"lo":1.01,"hi":1.18}],
"fd":[{"x":-1.93,"fit":-0.175,"lo":-0.73,"hi":0.38},{"x":-1.4,"fit":-0.13,"lo":-0.5,"hi":0.24},{"x":-0.8,"fit":-0.08,"lo":-0.3,"hi":0.14},{"x":-0.3,"fit":-0.037,"lo":-0.09,"hi":0.02},{"x":0,"fit":-0.012,"lo":-0.05,"hi":0.03},{"x":0.3,"fit":0.013,"lo":-0.05,"hi":0.08},{"x":0.76,"fit":0.05,"lo":-0.14,"hi":0.24}],
"fe":[{"x":-7.4,"fit":0.525,"lo":0.245,"hi":0.79},{"x":-6.4,"fit":0.475,"lo":0.233,"hi":0.72},{"x":-5.4,"fit":0.425,"lo":0.221,"hi":0.658},{"x":-4.4,"fit":0.375,"lo":0.204,"hi":0.58},{"x":-3.4,"fit":0.324,"lo":0.185,"hi":0.492},{"x":-2.4,"fit":0.273,"lo":0.164,"hi":0.405},{"x":-1.4,"fit":0.224,"lo":0.14,"hi":0.335},{"x":-0.4,"fit":0.18,"lo":0.11,"hi":0.285},{"x":0.6,"fit":0.143,"lo":0.087,"hi":0.23},{"x":1.95,"fit":0.097,"lo":0.065,"hi":0.147}],
"ff":[{"x":-5.45,"fit":0.192,"lo":0.084,"hi":0.383},{"x":-4.33,"fit":0.182,"lo":0.095,"hi":0.327},{"x":-3.42,"fit":0.174,"lo":0.107,"hi":0.273},{"x":-2.5,"fit":0.166,"lo":0.116,"hi":0.245},{"x":-1.6,"fit":0.158,"lo":0.124,"hi":0.22},{"x":-0.33,"fit":0.148,"lo":0.133,"hi":0.2},{"x":0.76,"fit":0.141,"lo":0.13,"hi":0.2},{"x":1.31,"fit":0.138,"lo":0.12,"hi":0.205},{"x":2.04,"fit":0.133,"lo":0.1,"hi":0.213},{"x":3.22,"fit":0.129,"lo":0.073,"hi":0.224}],
"ery":[{"v":0.766},{"v":0.752},{"v":0.737},{"v":0.722},{"v":0.711},{"v":0.696},{"v":0.686},{"v":0.671},{"v":0.657},{"v":0.642},{"v":0.627},{"v":0.613},{"v":0.605},{"v":0.591},{"v":0.579},{"v":0.569},{"v":0.547},{"v":0.525},{"v":0.51},{"v":0.488},{"v":0.459},{"v":0.43},{"v":0.408},{"v":0.4},{"v":0.379},{"v":0.342},{"v":0.313},{"v":0.284},{"v":0.269},{"v":0.254},{"v":0.225},{"v":0.203},{"v":0.196},{"v":0.188},{"v":0.181},{"v":0.175},{"v":0.17},{"v":0.165},{"v":0.16},{"v":0.155},{"v":0.15},{"v":0.145},{"v":0.14},{"v":0.135},{"v":0.13},{"v":0.125},{"v":0.12},{"v":0.115},{"v":0.11},{"v":0.105},{"v":0.1},{"v":0.095},{"v":0.09},{"v":0.085},{"v":0.08},{"v":0.075},{"v":0.07}],
"erx":[{"v":-7.35},{"v":-5.0},{"v":-4.35},{"v":-3.64},{"v":-3.5},{"v":-3.3},{"v":-3.25},{"v":-3.12},{"v":-2.98},{"v":-2.86},{"v":-2.73},{"v":-2.59},{"v":-2.43},{"v":-2.28},{"v":-2.14},{"v":-2.01},{"v":-1.89},{"v":-1.8},{"v":-1.7},{"v":-1.6},{"v":-1.5},{"v":-1.4},{"v":-1.3},{"v":-1.2},{"v":-1.1},{"v":-1.0},{"v":-0.9},{"v":-0.8},{"v":-0.7},{"v":-0.6},{"v":-0.5},{"v":-0.4},{"v":-0.3},{"v":-0.2},{"v":-0.1},{"v":0.0},{"v":0.1},{"v":0.2},{"v":0.3},{"v":0.4},{"v":0.5},{"v":0.6},{"v":0.7},{"v":0.8},{"v":0.9},{"v":1.0},{"v":1.1},{"v":1.2},{"v":1.3},{"v":1.4},{"v":1.5},{"v":1.6},{"v":1.7},{"v":1.95}],
"fry":[{"v":0.727},{"v":0.66},{"v":0.65},{"v":0.64},{"v":0.63},{"v":0.62},{"v":0.61},{"v":0.6},{"v":0.59},{"v":0.58},{"v":0.57},{"v":0.56},{"v":0.55},{"v":0.54},{"v":0.52},{"v":0.5},{"v":0.48},{"v":0.46},{"v":0.44},{"v":0.42},{"v":0.4},{"v":0.385},{"v":0.37},{"v":0.14},{"v":0.135},{"v":0.13},{"v":0.125},{"v":0.12},{"v":0.115},{"v":0.11},{"v":0.105},{"v":0.1},{"v":0.095},{"v":0.09},{"v":0.085},{"v":0.08},{"v":0.075},{"v":0.07},{"v":0.065},{"v":0.06},{"v":0.055}],
"frx":[{"v":-5.45},{"v":-4.51},{"v":-4.33},{"v":-4.18},{"v":-4.05},{"v":-3.87},{"v":-3.75},{"v":-3.6},{"v":-3.42},{"v":-3.24},{"v":-3.05},{"v":-2.9},{"v":-2.8},{"v":-2.7},{"v":-2.6},{"v":-2.5},{"v":-2.4},{"v":-2.3},{"v":-2.2},{"v":-2.1},{"v":-2.0},{"v":-1.9},{"v":-1.8},{"v":-1.7},{"v":-1.6},{"v":-1.5},{"v":-1.4},{"v":-1.3},{"v":-1.2},{"v":-1.1},{"v":-1.0},{"v":-0.9},{"v":-0.8},{"v":-0.7},{"v":-0.6},{"v":-0.5},{"v":-0.4},{"v":-0.3},{"v":-0.2},{"v":-0.1},{"v":0.0},{"v":0.1},{"v":0.2},{"v":0.3},{"v":0.4},{"v":0.5},{"v":0.6},{"v":0.7},{"v":0.8},{"v":0.9},{"v":1.0},{"v":1.1},{"v":1.2},{"v":1.3},{"v":1.4},{"v":1.5},{"v":1.6},{"v":1.7},{"v":1.8},{"v":1.9},{"v":2.0},{"v":2.1},{"v":2.2},{"v":2.3},{"v":2.4},{"v":2.5},{"v":2.7},{"v":3.13}]
},
"concat":[
{"width":175,"height":185,
 "layer":[
  {"data":{"name":"pa"},"mark":{"type":"circle","size":50,"opacity":0.5,"color":"#3A89BF"},
   "encoding":{"x":{"field":"x","type":"quantitative","scale":{"domain":[-1.565,1.258],"nice":false,"zero":false},"axis":{"title":"Predicted value","values":[-1.5,-1,-0.5,0,0.5,1],"format":".1f"}},
    "y":{"field":"y","type":"quantitative","scale":{"domain":[-4.31,2.94],"nice":false,"zero":false},"axis":{"title":"Measured value","values":[-4,-2,0,2],"format":".1f"}}}},
  {"data":{"name":"fa"},"mark":{"type":"area","color":"#999999","opacity":0.4},"encoding":{"x":{"field":"x","type":"quantitative"},"y":{"field":"lo","type":"quantitative"},"y2":{"field":"hi"}}},
  {"data":{"name":"fa"},"mark":{"type":"line","color":"#E69F00","strokeWidth":3},"encoding":{"x":{"field":"x","type":"quantitative"},"y":{"field":"fit","type":"quantitative"}}},
  {"data":{"values":[{"t":"a"}]},"mark":{"type":"text","fontSize":24,"fontWeight":"bold"},"encoding":{"x":{"datum":-2.307,"type":"quantitative"},"y":{"datum":3.33,"type":"quantitative"},"text":{"field":"t"}}},
  {"data":{"values":[{"t":"Fecal acetic acid"}]},"mark":{"type":"text"},"encoding":{"x":{"datum":-1.533,"type":"quantitative"},"y":{"datum":3.489,"type":"quantitative"},"text":{"field":"t"}}},
  {"data":{"values":[{"t":"r"}]},"mark":{"type":"text","fontStyle":"italic"},"encoding":{"x":{"datum":-1.533,"type":"quantitative"},"y":{"datum":3.018,"type":"quantitative"},"text":{"field":"t"}}},
  {"data":{"values":[{"t":"= 0.53, FDR < 0.0001"}]},"mark":{"type":"text","dx":8},"encoding":{"x":{"datum":-1.533,"type":"quantitative"},"y":{"datum":3.018,"type":"quantitative"},"text":{"field":"t"}}}
 ]},
{"width":51,"height":10,"data":{"values":[]},"mark":{"type":"point","opacity":0}},
{"width":174,"height":185,
 "layer":[
  {"data":{"name":"pb"},"mark":{"type":"circle","size":50,"opacity":0.5,"color":"#6B8E23"},
   "encoding":{"x":{"field":"x","type":"quantitative","scale":{"domain":[-1.851,0.746],"nice":false,"zero":false},"axis":{"title":"Predicted value","values":[-1,0],"format":"d"}},
    "y":{"field":"y","type":"quantitative","scale":{"domain":[-4.63,3.13],"nice":false,"zero":false},"axis":{"title":"Measured value","values":[-4,-2,0,2],"format":".1f"}}}},
  {"data":{"name":"fb"},"mark":{"type":"area","color":"#999999","opacity":0.4,"interpolate":"monotone"},"encoding":{"x":{"field":"x","type":"quantitative"},"y":{"field":"lo","type":"quantitative"},"y2":{"field":"hi"}}},
  {"data":{"name":"fb"},"mark":{"type":"line","color":"#3366FF","strokeWidth":3},"encoding":{"x":{"field":"x","type":"quantitative"},"y":{"field":"fit","type":"quantitative"}}},
  {"data":{"values":[{"t":"b"}]},"mark":{"type":"text","fontSize":24,"fontWeight":"bold"},"encoding":{"x":{"datum":-2.284,"type":"quantitative"},"y":{"datum":3.55,"type":"quantitative"},"text":{"field":"t"}}},
  {"data":{"values":[{"t":"Blood acetic acid"}]},"mark":{"type":"text"},"encoding":{"x":{"datum":-1.821,"type":"quantitative"},"y":{"datum":3.717,"type":"quantitative"},"text":{"field":"t"}}},
  {"data":{"values":[{"t":"r"}]},"mark":{"type":"text","fontStyle":"italic"},"encoding":{"x":{"datum":-1.821,"type":"quantitative"},"y":{"datum":3.214,"type":"quantitative"},"text":{"field":"t"}}},
  {"data":{"values":[{"t":"= 0.02, FDR = 0.6797"}]},"mark":{"type":"text","dx":8},"encoding":{"x":{"datum":-1.821,"type":"quantitative"},"y":{"datum":3.214,"type":"quantitative"},"text":{"field":"t"}}}
 ]},
{"width":61,"height":10,"data":{"values":[]},"mark":{"type":"point","opacity":0}},
{"width":175,"height":185,
 "view":{"stroke":"#B3B3B3","strokeWidth":1},
 "resolve":{"axis":{"x":"independent","y":"independent"}},
 "layer":[
  {"data":{"name":"fe"},"mark":{"type":"area","color":"#BEBEBE","opacity":0.6,"interpolate":"monotone"},
   "encoding":{"x":{"field":"x","type":"quantitative","scale":{"domain":[-7.85,2.396],"nice":false,"zero":false},"axis":{"orient":"bottom","values":[-6.25,-3.75,-1.25,1.25],"grid":true,"gridColor":"#F0F0F0","labels":false,"ticks":false,"domain":false,"title":null}},
    "y":{"field":"lo","type":"quantitative","scale":{"domain":[0.021,0.834],"nice":false,"zero":false},"axis":{"orient":"left","values":[0.1,0.3,0.5,0.7],"grid":true,"gridColor":"#F0F0F0","labels":false,"ticks":false,"domain":false,"title":null}},
    "y2":{"field":"hi"}}},
  {"layer":[
   {"data":{"name":"fe"},"mark":{"type":"line","color":"#F23B3B","strokeWidth":2,"interpolate":"monotone"},
    "encoding":{"x":{"field":"x","type":"quantitative","axis":{"orient":"bottom","values":[-7.5,-5,-2.5,0],"format":".1f","title":"Fecal butyric acid","grid":true,"gridColor":"#E3E3E3","labelFontSize":16,"titleFontSize":18,"domain":false,"ticks":true,"tickColor":"#B3B3B3","tickSize":2,"labelPadding":0,"titlePadding":-1}},
     "y":{"field":"fit","type":"quantitative","axis":{"orient":"left","values":[0.2,0.4,0.6,0.8],"format":".1f","title":"Prob(T2D)","grid":true,"gridColor":"#E3E3E3","labelFontSize":16,"titleFontSize":18,"domain":false,"ticks":true,"tickColor":"#B3B3B3","tickSize":2,"labelPadding":0,"titlePadding":3}}}},
   {"data":{"name":"ery"},"mark":{"type":"rule","color":"#7F7F7F","strokeWidth":1},"encoding":{"x":{"datum":-7.85,"type":"quantitative"},"x2":{"datum":-7.5},"y":{"field":"v","type":"quantitative"}}},
   {"data":{"name":"erx"},"mark":{"type":"rule","color":"#7F7F7F","strokeWidth":1},"encoding":{"x":{"field":"v","type":"quantitative"},"y":{"datum":0.021,"type":"quantitative"},"y2":{"datum":0.047}}},
   {"data":{"values":[{"t":"e"}]},"mark":{"type":"text","fontSize":24,"fontWeight":"bold"},"encoding":{"x":{"datum":-10.77,"type":"quantitative"},"y":{"datum":0.869,"type":"quantitative"},"text":{"field":"t"}}},
   {"data":{"values":[{"t":"β = -0.25, FDR = 0.0375"}]},"mark":{"type":"text"},"encoding":{"x":{"datum":-6.21,"type":"quantitative"},"y":{"datum":0.724,"type":"quantitative"},"text":{"field":"t"}}}
  ]}
 ]},
{"width":175,"height":190,
 "layer":[
  {"data":{"name":"pc"},"mark":{"type":"circle","size":50,"opacity":0.5,"color":"#3A89BF"},
   "encoding":{"x":{"field":"x","type":"quantitative","scale":{"domain":[-1.683,1.233],"nice":false,"zero":false},"axis":{"title":"Predicted value","values":[-1,0,1],"format":"d"}},
    "y":{"field":"y","type":"quantitative","scale":{"domain":[-7.62,2.365],"nice":false,"zero":false},"axis":{"title":"Measured value","values":[-7.5,-5,-2.5,0],"format":".1f"}}}},
  {"data":{"name":"fc"},"mark":{"type":"area","color":"#999999","opacity":0.4},"encoding":{"x":{"field":"x","type":"quantitative"},"y":{"field":"lo","type":"quantitative"},"y2":{"field":"hi"}}},
  {"data":{"name":"fc"},"mark":{"type":"line","color":"#E69F00","strokeWidth":3},"encoding":{"x":{"field":"x","type":"quantitative"},"y":{"field":"fit","type":"quantitative"}}},
  {"data":{"values":[{"t":"c"}]},"mark":{"type":"text","fontSize":24,"fontWeight":"bold"},"encoding":{"x":{"datum":-2.466,"type":"quantitative"},"y":{"datum":3.048,"type":"quantitative"},"text":{"field":"t"}}},
  {"data":{"values":[{"t":"Fecal butyric acid"}]},"mark":{"type":"text"},"encoding":{"x":{"datum":-1.65,"type":"quantitative"},"y":{"datum":3.101,"type":"quantitative"},"text":{"field":"t"}}},
  {"data":{"values":[{"t":"r"}]},"mark":{"type":"text","fontStyle":"italic"},"encoding":{"x":{"datum":-1.65,"type":"quantitative"},"y":{"datum":2.207,"type":"quantitative"},"text":{"field":"t"}}},
  {"data":{"values":[{"t":"= 0.59, FDR < 0.0001"}]},"mark":{"type":"text","dx":8},"encoding":{"x":{"datum":-1.65,"type":"quantitative"},"y":{"datum":2.207,"type":"quantitative"},"text":{"field":"t"}}}
 ]},
{"width":51,"height":10,"data":{"values":[]},"mark":{"type":"point","opacity":0}},
{"width":174,"height":190,
 "layer":[
  {"data":{"name":"pd"},"mark":{"type":"circle","size":50,"opacity":0.5,"color":"#6B8E23"},
   "encoding":{"x":{"field":"x","type":"quantitative","scale":{"domain":[-2.045,0.855],"nice":false,"zero":false},"axis":{"title":"Predicted value","values":[-2,-1,0],"format":"d"}},
    "y":{"field":"y","type":"quantitative","scale":{"domain":[-5.9,3.79],"nice":false,"zero":false},"axis":{"title":"Measured value","values":[-4,-2,0,2],"format":".1f"}}}},
  {"data":{"name":"fd"},"mark":{"type":"area","color":"#999999","opacity":0.4,"interpolate":"monotone"},"encoding":{"x":{"field":"x","type":"quantitative"},"y":{"field":"lo","type":"quantitative"},"y2":{"field":"hi"}}},
  {"data":{"name":"fd"},"mark":{"type":"line","color":"#3366FF","strokeWidth":3},"encoding":{"x":{"field":"x","type":"quantitative"},"y":{"field":"fit","type":"quantitative"}}},
  {"data":{"values":[{"t":"d"}]},"mark":{"type":"text","fontSize":24,"fontWeight":"bold"},"encoding":{"x":{"datum":-2.528,"type":"quantitative"},"y":{"datum":4.453,"type":"quantitative"},"text":{"field":"t"}}},
  {"data":{"values":[{"t":"Blood butyric acid"}]},"mark":{"type":"text"},"encoding":{"x":{"datum":-1.978,"type":"quantitative"},"y":{"datum":4.504,"type":"quantitative"},"text":{"field":"t"}}},
  {"data":{"values":[{"t":"r"}]},"mark":{"type":"text","fontStyle":"italic"},"encoding":{"x":{"datum":-1.978,"type":"quantitative"},"y":{"datum":3.688,"type":"quantitative"},"text":{"field":"t"}}},
  {"data":{"values":[{"t":"= 0.03, FDR = 0.3605"}]},"mark":{"type":"text","dx":8},"encoding":{"x":{"datum":-1.978,"type":"quantitative"},"y":{"datum":3.688,"type":"quantitative"},"text":{"field":"t"}}}
 ]},
{"width":61,"height":10,"data":{"values":[]},"mark":{"type":"point","opacity":0}},
{"width":175,"height":187,
 "view":{"stroke":"#B3B3B3","strokeWidth":1},
 "resolve":{"axis":{"x":"independent","y":"independent"}},
 "layer":[
  {"data":{"name":"ff"},"mark":{"type":"area","color":"#BEBEBE","opacity":0.6,"interpolate":"monotone"},
   "encoding":{"x":{"field":"x","type":"quantitative","scale":{"domain":[-5.926,3.62],"nice":false,"zero":false},"axis":{"orient":"bottom","values":[-5,-3,-1,1,3],"grid":true,"gridColor":"#F0F0F0","labels":false,"ticks":false,"domain":false,"title":null}},
    "y":{"field":"lo","type":"quantitative","scale":{"domain":[0.019,0.767],"nice":false,"zero":false},"axis":{"orient":"left","values":[0.1,0.3,0.5,0.7],"grid":true,"gridColor":"#F0F0F0","labels":false,"ticks":false,"domain":false,"title":null}},
    "y2":{"field":"hi"}}},
  {"layer":[
   {"data":{"name":"ff"},"mark":{"type":"line","color":"#1E8FFF","strokeWidth":2,"interpolate":"monotone"},
    "encoding":{"x":{"field":"x","type":"quantitative","axis":{"orient":"bottom","values":[-4,-2,0,2],"format":"d","title":"Blood butyric acid","grid":true,"gridColor":"#E3E3E3","labelFontSize":16,"titleFontSize":18,"domain":false,"ticks":true,"tickColor":"#B3B3B3","tickSize":2,"labelPadding":0,"titlePadding":-1}},
     "y":{"field":"fit","type":"quantitative","axis":{"orient":"left","values":[0.2,0.4,0.6],"format":".1f","title":"Prob(T2D)","grid":true,"gridColor":"#E3E3E3","labelFontSize":16,"titleFontSize":18,"domain":false,"ticks":true,"tickColor":"#B3B3B3","tickSize":2,"labelPadding":0,"titlePadding":3}}}},
   {"data":{"name":"fry"},"mark":{"type":"rule","color":"#7F7F7F","strokeWidth":1},"encoding":{"x":{"datum":-5.926,"type":"quantitative"},"x2":{"datum":-5.6},"y":{"field":"v","type":"quantitative"}}},
   {"data":{"name":"frx"},"mark":{"type":"rule","color":"#7F7F7F","strokeWidth":1},"encoding":{"x":{"field":"v","type":"quantitative"},"y":{"datum":0.019,"type":"quantitative"},"y2":{"datum":0.043}}},
   {"data":{"values":[{"t":"f"}]},"mark":{"type":"text","fontSize":24,"fontWeight":"bold"},"encoding":{"x":{"datum":-8.654,"type":"quantitative"},"y":{"datum":0.819,"type":"quantitative"},"text":{"field":"t"}}},
   {"data":{"values":[{"t":"β = -0.05,"}]},"mark":{"type":"text"},"encoding":{"x":{"datum":-4.18,"type":"quantitative"},"y":{"datum":0.499,"type":"quantitative"},"text":{"field":"t"}}},
   {"data":{"values":[{"t":"P"}]},"mark":{"type":"text","fontStyle":"italic","dx":59},"encoding":{"x":{"datum":-4.18,"type":"quantitative"},"y":{"datum":0.499,"type":"quantitative"},"text":{"field":"t"}}},
   {"data":{"values":[{"t":"= 0.543"}]},"mark":{"type":"text","dx":71},"encoding":{"x":{"datum":-4.18,"type":"quantitative"},"y":{"datum":0.499,"type":"quantitative"},"text":{"field":"t"}}}
  ]}
 ]}
],
"columns":5,
"spacing":{"row":77,"column":0},
"bounds":"flush"
}
